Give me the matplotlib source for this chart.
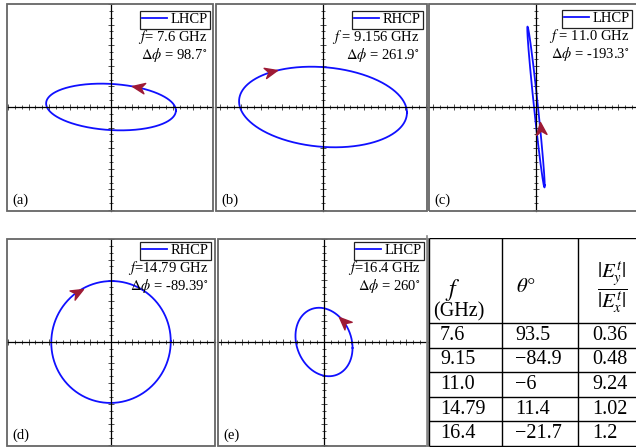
import numpy as np
import matplotlib
matplotlib.use("Agg")
import matplotlib.pyplot as plt
from matplotlib.patches import Rectangle
from matplotlib.path import Path
from matplotlib.markers import MarkerStyle
from matplotlib.transforms import Affine2D
from matplotlib.ticker import MultipleLocator

plt.rcParams['font.family'] = ['Liberation Serif', 'DejaVu Serif']
plt.rcParams['mathtext.fontset'] = 'stix'

# polarisation ellipses, one per panel
panel_tags = ['(a)', '(b)', '(c)', '(d)', '(e)']
pol = ['LHCP', 'RHCP', 'LHCP', 'RHCP', 'LHCP']
f_text = [r'$f$= 7.6 GHz', r'$f$ = 9.156 GHz', r'$f$ = 11.0 GHz',
          r'$f$=14.79 GHz', r'$f$=16.4 GHz']
phase_labels = ['98.7', '261.9', '-193.3', '-89.39', '260']
dphi = [98.7, 261.9, -193.3, -89.39, 260.0]
ex_amp = [0.63, 0.815, 0.0845, 0.58, 0.277]
ratio = [0.36, 0.48, 9.24, 1.02, 1.2]
arrow_t = [71.5, -123.0, 66.0, -118.0, -58.0]
arrow_dir = [1, 1, 1, 1, -1]

# table
table_f = ['7.6', '9.15', '11.0', '14.79', '16.4']
table_theta = ['93.5', '\u221284.9', '\u22126', '11.4', '\u221221.7']
table_ratio = ['0.36', '0.48', '9.24', '1.02', '1.2']

W, H = 636, 447
fig = plt.figure(figsize=(W / 100, H / 100), dpi=100)

# panel frames in pixels: left, top, right, bottom, origin x, origin y
frames = [(7, 4, 213, 211, 111, 107),
          (216, 4, 427, 211, 323, 107),
          (429, 4, 643, 211, 536, 107),
          (7, 239, 215, 446, 111, 342),
          (218, 239, 428, 446, 324, 342)]
legend_anchor = [(210, 11), (423, 11), (632, 10), (211, 242), (424, 242)]
s = 103.0  # pixels per unit

head = Path([(0, 0), (-1, 0.42), (-0.7, 0), (-1, -0.42), (0, 0)],
            [Path.MOVETO, Path.LINETO, Path.LINETO, Path.LINETO, Path.CLOSEPOLY])

t = np.linspace(0, 2 * np.pi, 600)
for i in range(5):
    l, tp, r, b, cx, cy = frames[i]
    ax = fig.add_axes([l / W, 1 - b / H, (r - l) / W, (b - tp) / H])
    ax.set_xlim((l - cx) / s, (r - cx) / s)
    ax.set_ylim((cy - b) / s, (cy - tp) / s)
    for k in ['top', 'right']:
        ax.spines[k].set_visible(False)
    for k in ['left', 'bottom']:
        ax.spines[k].set_position(('data', 0))
        ax.spines[k].set_linewidth(0.9)
    ax.add_patch(Rectangle((0, 0), 1, 1, transform=ax.transAxes, fill=False,
                           edgecolor='#666666', lw=1.3, clip_on=False, zorder=5))
    ax.xaxis.set_major_locator(MultipleLocator(0.2))
    ax.yaxis.set_major_locator(MultipleLocator(0.2))
    ax.xaxis.set_minor_locator(MultipleLocator(0.2 / 3))
    ax.yaxis.set_minor_locator(MultipleLocator(0.2 / 3))
    ax.tick_params(which='both', direction='inout', labelbottom=False,
                   labelleft=False, width=0.55, color='#222222')
    ax.tick_params(which='major', length=4.5)
    ax.tick_params(which='minor', length=2.5)

    ph = np.radians(dphi[i])
    ax_amp = ex_amp[i]
    ay_amp = ex_amp[i] * ratio[i]
    x = ax_amp * np.cos(t)
    y = ay_amp * np.cos(t - ph)
    ax.plot(x, y, color='#1010ff', lw=1.3, label=pol[i])

    ta = np.radians(arrow_t[i])
    xa = ax_amp * np.cos(ta)
    ya = ay_amp * np.cos(ta - ph)
    dx = -ax_amp * np.sin(ta) * arrow_dir[i]
    dy = -ay_amp * np.sin(ta - ph) * arrow_dir[i]
    ang = np.degrees(np.arctan2(dy, dx))
    ms = MarkerStyle(head, transform=Affine2D().rotate_deg(ang))
    ax.plot([xa], [ya], marker=ms, markersize=18, color='#9e1a35',
            linestyle='none', zorder=4)

    lx, ly = legend_anchor[i]
    leg = ax.legend(loc='upper right', bbox_to_anchor=(lx / W, 1 - ly / H),
                    bbox_transform=fig.transFigure, fancybox=False,
                    edgecolor='#222222', framealpha=1, borderpad=0.15,
                    handlelength=1.7, handletextpad=0.25, borderaxespad=0,
                    fontsize=10.5)
    leg.get_frame().set_linewidth(0.9)
    fig.text((lx - 3) / W, 1 - (ly + 26) / H, f_text[i], ha='right',
             va='center', fontsize=10.5)
    fig.text((lx - 3) / W, 1 - (ly + 44) / H,
             r'$\Delta\phi$ = ' + phase_labels[i] + r'$^{\circ}$',
             ha='right', va='center', fontsize=10.5)
    fig.text((l + 5) / W, 1 - (b - 11) / H, panel_tags[i], ha='left',
             va='center', fontsize=10.5)

# table panel, in pixel units from its top-left corner
tl, tt, tr, tb = 429, 238, 652, 447
tax = fig.add_axes([tl / W, 1 - tb / H, (tr - tl) / W, (tb - tt) / H])
tax.set_xlim(0, tr - tl)
tax.set_ylim(tb - tt, 0)
tax.axis('off')
col_edges = [0, 73, 149, 223]
row_edges = [0, 85, 110, 134, 159, 183, 208]
tax.vlines(col_edges, 0, row_edges[-1], color='black', lw=1.0)
tax.hlines(row_edges, 0, col_edges[-1], color='black', lw=1.0)
fig.add_artist(plt.Line2D([427 / W, 427 / W], [1 - 236 / H, 0],
                          color='#888888', lw=1.2))

tax.text(16, 52, r'$f$', fontsize=17, va='center', ha='left')
tax.text(4, 74, '(GHz)', fontsize=14.5, va='center', ha='left')
tax.text(col_edges[1] + 14, 49, r'$\theta°$', fontsize=15, va='center', ha='left')
tax.text(col_edges[2] + 34, 50, r'$\dfrac{|E_y^t|}{|E_x^t|}$', fontsize=15,
         va='center', ha='center')
cols = [table_f, table_theta, table_ratio]
pads = [11, 13, 14]
for j in range(3):
    for k in range(5):
        yc = (row_edges[k + 1] + row_edges[k + 2]) / 2
        tax.text(col_edges[j] + pads[j], yc, cols[j][k], fontsize=14.5,
                 va='center', ha='left')

fig.savefig('out.png', dpi=100)
